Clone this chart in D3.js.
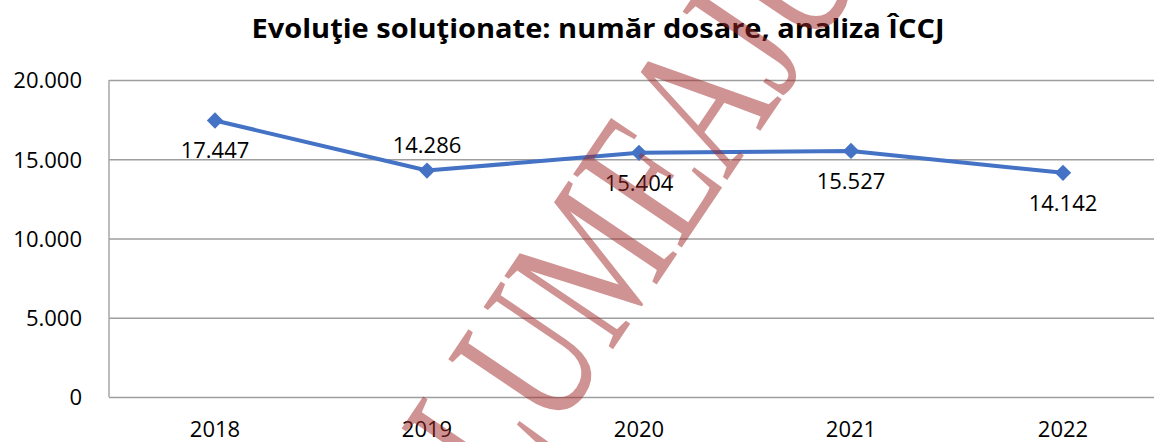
<!DOCTYPE html>
<html>
<head>
<meta charset="utf-8">
<script src="https://cdn.jsdelivr.net/npm/d3@7"></script>
<style>
  html, body { margin: 0; padding: 0; background: #fff; }
  svg { display: block; }
</style>
</head>
<body>
<svg id="chart" width="1154" height="442"></svg>
<script>
// ---- data ----
const titleText = "Evoluţie soluţionate: număr dosare, analiza ÎCCJ";
const years = ["2018", "2019", "2020", "2021", "2022"];
const values = [17447, 14286, 15404, 15527, 14142];
const labelSides = ["below", "above", "below", "below", "below"];
const yTicks = [0, 5000, 10000, 15000, 20000];
const watermarkText = "LUMEAJUSTIŢIEI";

// ---- layout ----
const W = 1154, H = 442;
const plot = { left: 109, right: 1169, top: 80, bottom: 397 };
const svg = d3.select("#chart");

const fmt = d3.formatLocale({ decimal: ",", thousands: ".", grouping: [3], currency: ["", ""] }).format(",d");

const x = d3.scaleBand().domain(years).range([plot.left, plot.right]).padding(0);
const y = d3.scaleLinear().domain([0, 20000]).range([plot.bottom, plot.top]);
const cx = d => x(d) + x.bandwidth() / 2;

const font = "'Open Sans', 'Noto Sans', sans-serif";

// gridlines
const gridG = svg.append("g")
  .attr("transform", `translate(${plot.left},0)`)
  .call(d3.axisLeft(y).tickValues(yTicks).tickSize(-(plot.right - plot.left)).tickFormat(""));
gridG.select(".domain").remove();
gridG.selectAll(".tick line").attr("stroke", "#9e9e9e").attr("stroke-width", 1.5);

// left axis line
svg.append("line")
  .attr("x1", plot.left).attr("x2", plot.left)
  .attr("y1", y(20000)).attr("y2", y(0))
  .attr("stroke", "#a6a6a6").attr("stroke-width", 1.5);

// y tick labels
const yAxis = svg.append("g")
  .attr("transform", `translate(${plot.left - 27},0)`)
  .call(d3.axisLeft(y).tickValues(yTicks).tickSize(0).tickPadding(0).tickFormat(fmt));
yAxis.select(".domain").remove();
yAxis.selectAll("text")
  .attr("font-family", font).attr("font-size", 22).attr("fill", "#000").attr("dy", "0.36em");

// x axis labels
const xAxis = svg.append("g")
  .attr("transform", `translate(0,${plot.bottom})`)
  .call(d3.axisBottom(x).tickSize(0).tickPadding(0));
xAxis.select(".domain").remove();
xAxis.selectAll("text")
  .attr("font-family", font).attr("font-size", 22).attr("fill", "#000")
  .attr("dy", null).attr("y", 40);

// line
const pts = years.map((yr, i) => ({ yr, v: values[i], side: labelSides[i] }));
svg.append("path")
  .datum(pts)
  .attr("fill", "none")
  .attr("stroke", "#4472C4")
  .attr("stroke-width", 4)
  .attr("stroke-linejoin", "round")
  .attr("d", d3.line().x(d => cx(d.yr)).y(d => y(d.v)));

// markers
svg.append("g").selectAll("path")
  .data(pts).join("path")
  .attr("d", d3.symbol().type(d3.symbolDiamond2).size(170))
  .attr("transform", d => `translate(${cx(d.yr)},${y(d.v)})`)
  .attr("fill", "#4472C4");

// data labels
svg.append("g").selectAll("text")
  .data(pts).join("text")
  .attr("x", d => cx(d.yr))
  .attr("y", d => y(d.v) + (d.side === "above" ? -18 : 38))
  .attr("text-anchor", "middle")
  .attr("font-family", font).attr("font-size", 22).attr("fill", "#000")
  .text(d => fmt(d.v));

// title
svg.append("text")
  .attr("x", 598).attr("y", 38)
  .attr("text-anchor", "middle")
  .attr("font-family", font).attr("font-weight", "bold").attr("font-size", 27)
  .attr("textLength", 693).attr("lengthAdjust", "spacingAndGlyphs")
  .attr("fill", "#000")
  .text(titleText);

// watermark
svg.append("text")
  .attr("transform", "translate(508,505) rotate(-56) scale(1,1.45)")
  .attr("font-family", "'Liberation Serif', 'DejaVu Serif', serif")
  .attr("font-size", 138)
  .attr("fill", "rgb(160,40,40)")
  .attr("fill-opacity", 0.5)
  .text(watermarkText);
</script>
</body>
</html>
